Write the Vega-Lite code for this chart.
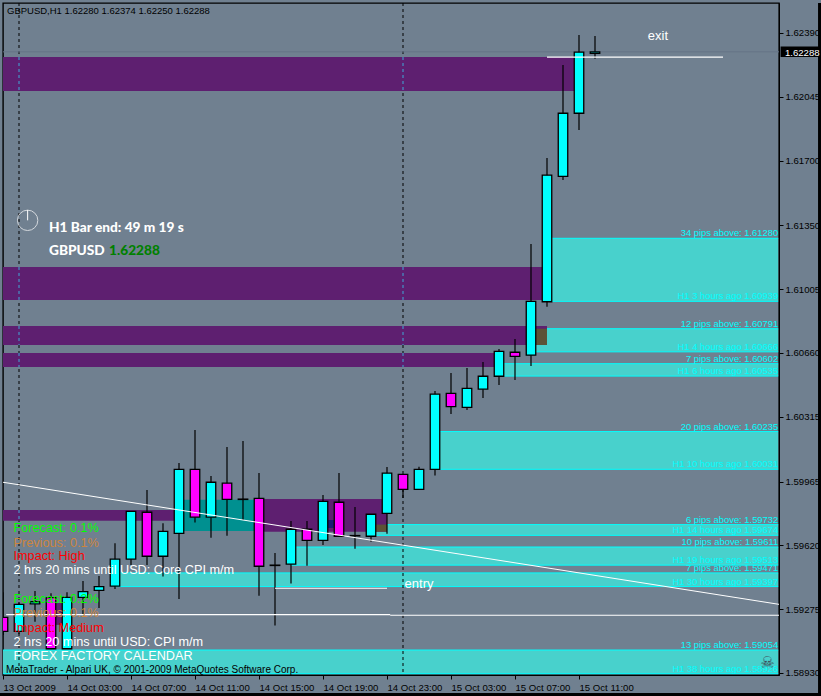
{
"$schema":"https://vega.github.io/schema/vega-lite/v6.json",
"width":776,"height":672,"autosize":"none",
"padding":{"left":3,"top":3,"right":42,"bottom":21},
"background":"#708090",
"config":{"view":{"stroke":"#000000","strokeWidth":1.4},"axis":{"title":null},"text":{"font":"Liberation Sans"}},
"resolve":{"scale":{"color":"independent","fill":"independent"}},
"datasets":{
"candles":[
{"i":0,"side":"down","open":1.59231,"close":1.59155,"high":1.59366,"low":1.59135},
{"i":1,"side":"up","open":1.59155,"close":1.59301,"high":1.59314,"low":1.59141},
{"i":2,"side":"up","open":1.59303,"close":1.59315,"high":1.59373,"low":1.59207},
{"i":3,"side":"down","open":1.59337,"close":1.59061,"high":1.59361,"low":1.59061},
{"i":4,"side":"up","open":1.59061,"close":1.59339,"high":1.59366,"low":1.59061},
{"i":5,"side":"up","open":1.59339,"close":1.5937,"high":1.59427,"low":1.59244},
{"i":6,"side":"up","open":1.59377,"close":1.59397,"high":1.59454,"low":1.59281},
{"i":7,"side":"up","open":1.59399,"close":1.59545,"high":1.59631,"low":1.59384},
{"i":8,"side":"up","open":1.59545,"close":1.59804,"high":1.59804,"low":1.59514},
{"i":9,"side":"down","open":1.59799,"close":1.59561,"high":1.59919,"low":1.59514},
{"i":10,"side":"up","open":1.59561,"close":1.59696,"high":1.59739,"low":1.59451},
{"i":11,"side":"up","open":1.59685,"close":1.60031,"high":1.60065,"low":1.5933},
{"i":12,"side":"down","open":1.60031,"close":1.59772,"high":1.60244,"low":1.59743},
{"i":13,"side":"up","open":1.59772,"close":1.59961,"high":1.59995,"low":1.59661},
{"i":14,"side":"down","open":1.59956,"close":1.59869,"high":1.60152,"low":1.59672},
{"i":15,"side":"down","open":1.5987,"close":1.59868,"high":1.60184,"low":1.59757},
{"i":16,"side":"down","open":1.59874,"close":1.59507,"high":1.60011,"low":1.59348},
{"i":17,"side":"down","open":1.59513,"close":1.59511,"high":1.59579,"low":1.59186},
{"i":18,"side":"up","open":1.59518,"close":1.59707,"high":1.59752,"low":1.59413},
{"i":19,"side":"down","open":1.59707,"close":1.59647,"high":1.59752,"low":1.5951},
{"i":20,"side":"up","open":1.59647,"close":1.59858,"high":1.59892,"low":1.59622},
{"i":21,"side":"down","open":1.59853,"close":1.59669,"high":1.60011,"low":1.59669},
{"i":22,"side":"down","open":1.59673,"close":1.59671,"high":1.59827,"low":1.59602},
{"i":23,"side":"up","open":1.59669,"close":1.59788,"high":1.59788,"low":1.5964},
{"i":24,"side":"up","open":1.59793,"close":1.6001,"high":1.60044,"low":1.59683},
{"i":25,"side":"down","open":1.60004,"close":1.59923,"high":1.60004,"low":1.59876},
{"i":26,"side":"up","open":1.59923,"close":1.60031,"high":1.60045,"low":1.59923},
{"i":27,"side":"up","open":1.60031,"close":1.60437,"high":1.60455,"low":1.59997},
{"i":28,"side":"down","open":1.60442,"close":1.6037,"high":1.60552,"low":1.6033},
{"i":29,"side":"up","open":1.60366,"close":1.60469,"high":1.60579,"low":1.60352},
{"i":30,"side":"up","open":1.60464,"close":1.60534,"high":1.60611,"low":1.60417},
{"i":31,"side":"up","open":1.60534,"close":1.60669,"high":1.60682,"low":1.60487},
{"i":32,"side":"down","open":1.60664,"close":1.60642,"high":1.60736,"low":1.60514},
{"i":33,"side":"up","open":1.60648,"close":1.60939,"high":1.61249,"low":1.6059},
{"i":34,"side":"up","open":1.60937,"close":1.61621,"high":1.61714,"low":1.6091},
{"i":35,"side":"up","open":1.61615,"close":1.61956,"high":1.62217,"low":1.61595},
{"i":36,"side":"up","open":1.61956,"close":1.62286,"high":1.62379,"low":1.61866},
{"i":37,"side":"up","open":1.6228,"close":1.62288,"high":1.62374,"low":1.6225}
],
"teal":[
{"start":34,"end":48.45,"hi":1.6128,"lo":1.60939,"hiText":"34 pips above: 1.61280","loText":"H1 3 hours ago 1.60939"},
{"start":33,"end":48.45,"hi":1.60791,"lo":1.60666,"hiText":"12 pips above: 1.60791","loText":"H1 4 hours ago 1.60666"},
{"start":31,"end":48.45,"hi":1.60602,"lo":1.60535,"hiText":"7 pips above: 1.60602","loText":"H1 6 hours ago 1.60535"},
{"start":27,"end":48.45,"hi":1.60235,"lo":1.60031,"hiText":"20 pips above: 1.60235","loText":"H1 10 hours ago 1.60031"},
{"start":23,"end":48.45,"hi":1.59732,"lo":1.59674,"hiText":"6 pips above: 1.59732","loText":"H1 14 hours ago 1.59674"},
{"start":18,"end":48.45,"hi":1.59611,"lo":1.59513,"hiText":"10 pips above: 1.59611","loText":"H1 19 hours ago 1.59513"},
{"start":7,"end":48.45,"hi":1.59471,"lo":1.59397,"hiText":"7 pips above: 1.59471","loText":"H1 30 hours ago 1.59397"},
{"start":0,"end":48.45,"hi":1.59054,"lo":1.58926,"hiText":"13 pips above: 1.59054","loText":"H1 38 hours ago 1.58926"}
],
"zones":[
{"start":0,"end":36,"hi":1.6226,"lo":1.62076,"kind":"supply"},
{"start":0,"end":34,"hi":1.61125,"lo":1.60947,"kind":"supply"},
{"start":0,"end":34,"hi":1.60806,"lo":1.60703,"kind":"supply"},
{"start":0,"end":31,"hi":1.6066,"lo":1.60584,"kind":"supply"},
{"start":0,"end":11,"hi":1.59811,"lo":1.59753,"kind":"supply"},
{"start":16,"end":24,"hi":1.59871,"lo":1.59694,"kind":"supply"},
{"start":3,"end":4,"hi":1.59308,"lo":1.5919,"kind":"supply"},
{"start":11,"end":16,"hi":1.59867,"lo":1.59698,"kind":"overlap"},
{"start":33,"end":34,"hi":1.60791,"lo":1.60703,"kind":"olive"},
{"start":23,"end":24,"hi":1.59732,"lo":1.59694,"kind":"olive"},
{"start":20,"end":21,"hi":1.59757,"lo":1.59714,"kind":"navy"}
],
"hlines":[
{"name":"lower left","from":0.2,"to":24.2,"price":1.59245},
{"name":"lower right","from":24.2,"to":48.5,"price":1.59242},
{"name":"entry","from":17,"to":24,"price":1.59388},
{"name":"exit","from":34,"to":45,"price":1.62259}
],
"trend":[{"i":0,"price":1.59961},{"i":48.5,"price":1.59301}],
"sessions":[{"i":1},{"i":25}],
"sessionsOnZones":[
{"i":1,"hi":1.6226,"lo":1.62076},{"i":1,"hi":1.61125,"lo":1.60947},{"i":1,"hi":1.60806,"lo":1.60703},{"i":1,"hi":1.6066,"lo":1.60584},{"i":1,"hi":1.59811,"lo":1.59753},
{"i":25,"hi":1.6226,"lo":1.62076},{"i":25,"hi":1.61125,"lo":1.60947},{"i":25,"hi":1.60806,"lo":1.60703},{"i":25,"hi":1.6066,"lo":1.60584}
],
"calendar":[
{"i":0.656,"price":1.59694,"text":"Forecast: 0.1%","kind":"f"},
{"i":0.656,"price":1.59612,"text":"Previous: 0.1%","kind":"p"},
{"i":0.656,"price":1.59541,"text":"Impact: High","kind":"m"},
{"i":0.656,"price":1.59465,"text":"2 hrs 20 mins until USD: Core CPI m/m","kind":"w"},
{"i":0.656,"price":1.59307,"text":"Forecast: 0.2%","kind":"f"},
{"i":0.656,"price":1.59231,"text":"Previous: 0.1%","kind":"p"},
{"i":0.656,"price":1.5915,"text":"Impact: Medium","kind":"m"},
{"i":0.656,"price":1.59078,"text":"2 hrs 20 mins until USD: CPI m/m","kind":"w"},
{"i":0.656,"price":1.59,"text":"FOREX FACTORY CALENDAR","kind":"w"}
]
},
"layer":[
{"data":{"name":"teal"},"mark":{"type":"rect","color":"#48D1CC","clip":true},
 "encoding":{
  "x":{"field":"start","type":"quantitative","scale":{"domain":[0,48.5],"nice":false,"zero":false,"padding":0},
   "axis":{"values":[0,4,8,12,16,20,24,28,32,36],"grid":false,"domainColor":"#000000","tickColor":"#000000","tickSize":4,"labelColor":"#000000","labelFont":"Liberation Sans","labelFontSize":9.6,"labelAlign":"left","labelPadding":3,"labelOverlap":false,"labelFlush":false,"title":null,
    "labelExpr":"['13 Oct 2009','14 Oct 03:00','14 Oct 07:00','14 Oct 11:00','14 Oct 15:00','14 Oct 19:00','14 Oct 23:00','15 Oct 03:00','15 Oct 07:00','15 Oct 11:00'][datum.value/4]"}},
  "x2":{"field":"end"},
  "y":{"field":"hi","type":"quantitative","scale":{"domain":[1.58919,1.62552],"nice":false,"zero":false},
   "axis":{"orient":"right","values":[1.6239,1.62215,1.62045,1.6187,1.617,1.61525,1.6135,1.6118,1.61005,1.6083,1.6066,1.60485,1.60315,1.6014,1.59965,1.59795,1.5962,1.59445,1.59275,1.591,1.5893],"format":".5f","grid":false,"domainColor":"#000000","tickColor":"#000000","tickSize":4,"labelColor":"#000000","labelFont":"Liberation Sans","labelFontSize":9.6,"labelPadding":2,"labelOverlap":false,"labelFlush":false,"title":null}},
  "y2":{"field":"lo"}}},
{"data":{"name":"teal"},"mark":{"type":"rule","color":"#00FFFF","strokeWidth":1,"clip":true},
 "encoding":{"x":{"field":"start","type":"quantitative","scale":{"domain":[0,48.5],"nice":false,"zero":false,"padding":0}},"x2":{"field":"end"},"y":{"field":"hi","type":"quantitative","scale":{"domain":[1.58919,1.62552],"nice":false,"zero":false}}}},
{"data":{"name":"teal"},"mark":{"type":"rule","color":"#00FFFF","strokeWidth":1,"clip":true},
 "encoding":{"x":{"field":"start","type":"quantitative","scale":{"domain":[0,48.5],"nice":false,"zero":false,"padding":0}},"x2":{"field":"end"},"y":{"field":"lo","type":"quantitative","scale":{"domain":[1.58919,1.62552],"nice":false,"zero":false}}}},
{"data":{"name":"sessions"},"mark":{"type":"rule","color":"#000000","strokeWidth":1,"strokeDash":[3,3]},
 "encoding":{"x":{"field":"i","type":"quantitative","scale":{"domain":[0,48.5],"nice":false,"zero":false,"padding":0}}}},
{"data":{"name":"zones"},"mark":{"type":"rect","clip":true},
 "encoding":{"x":{"field":"start","type":"quantitative","scale":{"domain":[0,48.5],"nice":false,"zero":false,"padding":0}},"x2":{"field":"end"},"y":{"field":"hi","type":"quantitative","scale":{"domain":[1.58919,1.62552],"nice":false,"zero":false}},"y2":{"field":"lo"},
  "color":{"field":"kind","type":"nominal","legend":null,"sort":null,"scale":{"domain":["supply","overlap","olive","navy"],"range":["#5E1F70","#009090","#5C5236","#1A1A72"]}}}},
{"data":{"name":"sessionsOnZones"},"mark":{"type":"rule","color":"#3FA9D8","strokeWidth":1,"strokeDash":[3,3]},
 "encoding":{"x":{"field":"i","type":"quantitative","scale":{"domain":[0,48.5],"nice":false,"zero":false,"padding":0}},"y":{"field":"hi","type":"quantitative","scale":{"domain":[1.58919,1.62552],"nice":false,"zero":false}},"y2":{"field":"lo"}}},
{"data":{"values":[{"price":1.62288}]},"mark":{"type":"rule","color":"#647486","strokeWidth":1},
 "encoding":{"y":{"field":"price","type":"quantitative","scale":{"domain":[1.58919,1.62552],"nice":false,"zero":false}}}},
{"data":{"name":"candles"},"mark":{"type":"rule","color":"#000000","strokeWidth":1.2,"clip":true},
 "encoding":{"x":{"field":"i","type":"quantitative","scale":{"domain":[0,48.5],"nice":false,"zero":false,"padding":0}},"y":{"field":"low","type":"quantitative","scale":{"domain":[1.58919,1.62552],"nice":false,"zero":false}},"y2":{"field":"high"}}},
{"data":{"name":"candles"},"mark":{"type":"bar","size":9.5,"stroke":"#000000","strokeWidth":1.3,"clip":true},
 "encoding":{"x":{"field":"i","type":"quantitative","scale":{"domain":[0,48.5],"nice":false,"zero":false,"padding":0}},"y":{"field":"open","type":"quantitative","scale":{"domain":[1.58919,1.62552],"nice":false,"zero":false}},"y2":{"field":"close"},
  "fill":{"field":"side","type":"nominal","legend":null,"scale":{"domain":["up","down"],"range":["#00FFFF","#FF00FF"]}}}},
{"data":{"name":"trend"},"mark":{"type":"line","color":"#FFFFFF","strokeWidth":1,"clip":true},
 "encoding":{"x":{"field":"i","type":"quantitative","scale":{"domain":[0,48.5],"nice":false,"zero":false,"padding":0}},"y":{"field":"price","type":"quantitative","scale":{"domain":[1.58919,1.62552],"nice":false,"zero":false}}}},
{"data":{"name":"hlines"},"mark":{"type":"rule","color":"#FFFFFF","strokeWidth":1.2},
 "encoding":{"x":{"field":"from","type":"quantitative","scale":{"domain":[0,48.5],"nice":false,"zero":false,"padding":0}},"x2":{"field":"to"},"y":{"field":"price","type":"quantitative","scale":{"domain":[1.58919,1.62552],"nice":false,"zero":false}}}},
{"data":{"name":"teal"},"mark":{"type":"text","color":"#00FFFF","align":"right","baseline":"alphabetic","dy":-2,"fontSize":9.4},
 "encoding":{"x":{"field":"end","type":"quantitative","scale":{"domain":[0,48.5],"nice":false,"zero":false,"padding":0}},"y":{"field":"hi","type":"quantitative","scale":{"domain":[1.58919,1.62552],"nice":false,"zero":false}},"text":{"field":"hiText"}}},
{"data":{"name":"teal"},"mark":{"type":"text","color":"#00FFFF","align":"right","baseline":"alphabetic","dy":-2,"fontSize":9.4},
 "encoding":{"x":{"field":"end","type":"quantitative","scale":{"domain":[0,48.5],"nice":false,"zero":false,"padding":0}},"y":{"field":"lo","type":"quantitative","scale":{"domain":[1.58919,1.62552],"nice":false,"zero":false}},"text":{"field":"loText"}}},
{"data":{"name":"calendar"},"mark":{"type":"text","align":"left","baseline":"alphabetic","fontSize":12.7,"font":"Liberation Sans"},
 "encoding":{"x":{"field":"i","type":"quantitative","scale":{"domain":[0,48.5],"nice":false,"zero":false,"padding":0}},"y":{"field":"price","type":"quantitative","scale":{"domain":[1.58919,1.62552],"nice":false,"zero":false}},"text":{"field":"text"},
  "color":{"field":"kind","type":"nominal","legend":null,"sort":null,"scale":{"domain":["f","p","m","w"],"range":["#00FF00","#CD853F","#FF0000","#FFFFFF"]}}}},
{"data":{"values":[{"i":0.25,"price":1.62493,"text":"GBPUSD,H1  1.62280 1.62374 1.62250 1.62288"}]},
 "mark":{"type":"text","color":"#000000","align":"left","baseline":"alphabetic","fontSize":9.5},
 "encoding":{"x":{"field":"i","type":"quantitative","scale":{"domain":[0,48.5],"nice":false,"zero":false,"padding":0}},"y":{"field":"price","type":"quantitative","scale":{"domain":[1.58919,1.62552],"nice":false,"zero":false}},"text":{"field":"text"}}},
{"data":{"values":[{"i":0.19,"price":1.5893,"text":"MetaTrader - Alpari UK, © 2001-2009 MetaQuotes Software Corp."}]},
 "mark":{"type":"text","color":"#000000","align":"left","baseline":"alphabetic","fontSize":10},
 "encoding":{"x":{"field":"i","type":"quantitative","scale":{"domain":[0,48.5],"nice":false,"zero":false,"padding":0}},"y":{"field":"price","type":"quantitative","scale":{"domain":[1.58919,1.62552],"nice":false,"zero":false}},"text":{"field":"text"}}},
{"data":{"values":[{"i":25.1,"price":1.5939,"text":"entry"},{"i":40.3,"price":1.62352,"text":"exit"}]},
 "mark":{"type":"text","color":"#FFFFFF","align":"left","baseline":"alphabetic","fontSize":13},
 "encoding":{"x":{"field":"i","type":"quantitative","scale":{"domain":[0,48.5],"nice":false,"zero":false,"padding":0}},"y":{"field":"price","type":"quantitative","scale":{"domain":[1.58919,1.62552],"nice":false,"zero":false}},"text":{"field":"text"}}},
{"data":{"values":[{"i":2.875,"price":1.61316,"text":"H1 Bar end: 49 m 19 s","kind":"w"},{"i":2.875,"price":1.6119,"text":"GBPUSD","kind":"w"},{"i":6.625,"price":1.6119,"text":"1.62288","kind":"g"}]},
 "mark":{"type":"text","align":"left","baseline":"alphabetic","fontSize":13.7,"fontWeight":900,"font":"Lato"},
 "encoding":{"x":{"field":"i","type":"quantitative","scale":{"domain":[0,48.5],"nice":false,"zero":false,"padding":0}},"y":{"field":"price","type":"quantitative","scale":{"domain":[1.58919,1.62552],"nice":false,"zero":false}},"text":{"field":"text"},
  "color":{"field":"kind","type":"nominal","legend":null,"sort":null,"scale":{"domain":["w","g"],"range":["#FFFFFF","#008000"]}}}},
{"data":{"values":[{"i":1.54,"price":1.61377}]},"mark":{"type":"point","shape":"circle","size":415,"filled":false,"stroke":"#FFFFFF","strokeWidth":1},
 "encoding":{"x":{"field":"i","type":"quantitative","scale":{"domain":[0,48.5],"nice":false,"zero":false,"padding":0}},"y":{"field":"price","type":"quantitative","scale":{"domain":[1.58919,1.62552],"nice":false,"zero":false}}}},
{"data":{"values":[{"i":1.54,"from":1.61433,"to":1.61377}]},"mark":{"type":"rule","color":"#FFFFFF","strokeWidth":1},
 "encoding":{"x":{"field":"i","type":"quantitative","scale":{"domain":[0,48.5],"nice":false,"zero":false,"padding":0}},"y":{"field":"from","type":"quantitative","scale":{"domain":[1.58919,1.62552],"nice":false,"zero":false}},"y2":{"field":"to"}}},
{"data":{"values":[{"i":47.77,"price":1.58985,"text":"☠"}]},"mark":{"type":"text","color":"#3D4A55","align":"center","baseline":"middle","fontSize":16,"font":"DejaVu Sans"},
 "encoding":{"x":{"field":"i","type":"quantitative","scale":{"domain":[0,48.5],"nice":false,"zero":false,"padding":0}},"y":{"field":"price","type":"quantitative","scale":{"domain":[1.58919,1.62552],"nice":false,"zero":false}},"text":{"field":"text"}}},
{"data":{"values":[{"a":48.6,"b":51.4,"hi":1.62317,"lo":1.6226},{"a":50.94,"b":51.4,"hi":1.62552,"lo":1.58806},{"a":-0.2,"b":51.4,"hi":1.58822,"lo":1.58806}]},
 "mark":{"type":"rect","color":"#000000","clip":false},
 "encoding":{"x":{"field":"a","type":"quantitative","scale":{"domain":[0,48.5],"nice":false,"zero":false,"padding":0}},"x2":{"field":"b"},"y":{"field":"hi","type":"quantitative","scale":{"domain":[1.58919,1.62552],"nice":false,"zero":false}},"y2":{"field":"lo"}}},
{"data":{"values":[{"i":48.87,"price":1.62268,"text":"1.62288"}]},"mark":{"type":"text","color":"#FFFFFF","align":"left","baseline":"alphabetic","fontSize":9.6},
 "encoding":{"x":{"field":"i","type":"quantitative","scale":{"domain":[0,48.5],"nice":false,"zero":false,"padding":0}},"y":{"field":"price","type":"quantitative","scale":{"domain":[1.58919,1.62552],"nice":false,"zero":false}},"text":{"field":"text"}}}
]
}
